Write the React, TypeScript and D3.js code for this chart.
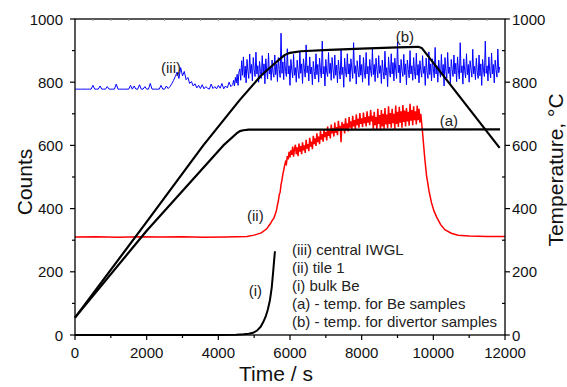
import React, { Component } from "react";
import * as d3 from "d3";

// (iii) central IWGL: quiet part, every 50 s from 0 s
const blueBaseStep = 50;
const blueBaseCounts = [
  778, 778, 778, 778, 778, 778, 778, 778, 778, 778,
  790, 778, 778, 778, 788, 778, 778, 778, 786, 778,
  778, 778, 778, 794, 778, 778, 778, 778, 778, 778,
  778, 790, 778, 788, 778, 778, 792, 778, 778, 786,
  778, 778, 796, 778, 778, 778, 778, 778, 790, 778,
  778, 788, 780, 786, 795, 806, 818, 832, 812, 846,
  820, 834, 808, 815, 796, 802, 788, 795, 782, 790,
  780, 792, 779, 786, 781, 778, 794, 780, 786, 779,
  790, 781, 796, 779, 788, 782, 800, 786,
];
// (iii) noisy part, every 25 s from 4400 s
const blueNoiseStart = 4400;
const blueNoiseStep = 25;
const blueNoiseCounts = [
  792, 806, 788, 815, 798, 825, 790, 832,
  842, 806, 868, 822, 880, 815, 851, 798, 872, 835,
  812, 889, 828, 856, 804, 878, 840, 818, 895, 826,
  852, 800, 866, 834, 812, 884, 822, 858, 795, 874,
  838, 810, 892, 826, 848, 806, 870, 830, 816, 886,
  824, 858, 802, 878, 840, 815, 955, 828, 864, 808,
  882, 834, 818, 906, 826, 852, 790, 872, 838, 814,
  888, 822, 846, 800, 870, 836, 812, 898, 828, 858,
  796, 874, 842, 816, 918, 830, 852, 804, 880, 826,
  848, 792, 866, 834, 810, 890, 824, 856, 800, 876,
  838, 814, 930, 826, 850, 788, 872, 832, 818, 894,
  828, 860, 806, 878, 840, 812, 886, 822, 854, 798,
  870, 836, 810, 902, 824, 848, 784, 876, 834, 816,
  890, 826, 858, 802, 874, 842, 812, 925, 828, 852,
  794, 868, 836, 816, 886, 822, 856, 800, 878, 832,
  812, 894, 826, 850, 790, 872, 838, 818, 906, 824,
  856, 802, 876, 840, 814, 884, 828, 852, 796, 870,
  834, 810, 898, 822, 846, 786, 880, 836, 816, 890,
  826, 862, 804, 876, 842, 812, 928, 830, 854, 798,
  872, 836, 818, 888, 824, 858, 792, 870, 840, 814,
  900, 826, 852, 806, 878, 834, 810, 892, 822, 856,
  798, 868, 838, 816, 884, 828, 850, 790, 876, 832,
  812, 896, 824, 858, 804, 874, 842, 814, 910, 826,
  852, 800, 870, 836, 816, 888, 822, 856, 788, 878,
  834, 812, 894, 828, 848, 796, 872, 840, 818, 886,
  826, 860, 802, 880, 838, 810, 925, 830, 852, 794,
  874, 836, 814, 890, 824, 856, 800, 868, 842, 816,
  904, 826, 850, 808, 876, 832, 812, 886, 820, 858,
  790, 872, 838, 818, 930, 828, 852, 804, 880, 834,
  814, 892, 826, 856, 798, 870, 840, 816, 905, 830,
  848,
];

// (ii) tile 1
const redStartTime = [0, 600, 1200, 1800, 2400, 3000, 3600, 4200, 4500, 4800, 5000, 5200, 5350, 5450, 5500];
const redStartCounts = [310, 311, 309, 311, 310, 311, 309, 310, 311, 312, 316, 323, 336, 352, 362];
const redPlateauStart = 5550;
const redPlateauStep = 25;
const redPlateauCounts = [
  370, 378, 386, 396, 412, 424, 444, 452, 476, 490,
  508, 522, 536, 548, 542, 566, 556, 580, 562, 584,
  570, 596, 564, 588, 602, 572, 594, 566, 606, 580,
  598, 572, 610, 584, 600, 576, 618, 590, 604, 582,
  624, 596, 612, 588, 630, 604, 622, 598, 638, 610,
  628, 604, 646, 618, 636, 612, 652, 626, 642, 616,
  660, 630, 648, 622, 666, 638, 654, 628, 672, 640,
  658, 632, 678, 646, 662, 610, 674, 650, 668, 638,
  686, 652, 670, 644, 690, 656, 676, 648, 694, 660,
  680, 652, 698, 664, 684, 656, 702, 668, 686, 658,
  704, 670, 690, 660, 708, 672, 692, 664, 712, 676,
  694, 652, 706, 664, 690, 650, 716, 668, 696, 648,
  712, 660, 700, 652, 718, 666, 698, 654, 724, 668,
  702, 656, 716, 670, 700, 652, 726, 668, 706, 658,
  722, 672, 708, 656, 728, 674, 710, 660, 718, 676,
  706, 662, 732, 678, 712, 664, 724, 680, 708, 666,
  726, 680, 716, 672, 700,
];
const redFallTime = [9700, 9760, 9810, 9880, 9950, 10020, 10090, 10200, 10320, 10500, 10690, 11000, 11500, 12000];
const redFallCounts = [640, 560, 505, 455, 418, 392, 374, 350, 333, 322, 316, 313, 312, 312];

// (i) bulk Be
const blackTime = [0, 1000, 2000, 3000, 4000, 4500, 4700, 4850, 4970, 5080, 5180, 5250, 5320, 5380, 5440, 5490, 5530, 5560, 5580];
const blackCounts = [0, 0, 0, 0, 0, 1, 2, 4, 7, 14, 26, 40, 58, 80, 110, 150, 200, 240, 265];

// (a) temp. for Be samples
const tempATime = [0, 2000, 4140, 4500, 4600, 4700, 4850, 8000, 11860];
const tempA = [55, 330, 600, 637, 645, 648, 650, 650, 651];

// (b) temp. for divertor samples
const tempBTime = [0, 2000, 3580, 4600, 5200, 5500, 5720, 5850, 6000, 6300, 7100, 8000, 9000, 9570, 9680, 11850];
const tempB = [55, 358, 600, 744, 822, 852, 874, 886, 893, 898, 902, 906, 910, 912, 908, 592];

const legendLines = [
  "(iii) central IWGL",
  "(ii) tile 1",
  "(i) bulk Be",
  "(a) - temp. for Be samples",
  "(b) - temp. for divertor samples",
];

const font = "'Liberation Sans', Arial, sans-serif";

export default class App extends Component {
  chartRef: any;
  componentDidMount() {
    const width = 567;
    const height = 387;
    const margin = { top: 19, right: 62, bottom: 52, left: 75 };

    const svg = d3.select(this.chartRef);
    svg.selectAll("*").remove();
    svg.attr("width", width).attr("height", height);

    const x = d3.scaleLinear().domain([0, 12000]).range([margin.left, width - margin.right]);
    const y = d3.scaleLinear().domain([0, 1000]).range([height - margin.bottom, margin.top]);
    const [x0, x1] = x.range();
    const [y0, y1] = y.range();

    const line: any = d3
      .line()
      .x((d: any) => x(d[0]))
      .y((d: any) => y(d[1]));

    const g = svg.append("g").attr("font-family", font);

    // 数据
    const blueData = [
      ...blueBaseCounts.map((v, i) => [i * blueBaseStep, v]),
      ...blueNoiseCounts.map((v, i) => [blueNoiseStart + i * blueNoiseStep, v]),
    ];
    const redData = [
      ...redStartTime.map((t, i) => [t, redStartCounts[i]]),
      ...redPlateauCounts.map((v, i) => [redPlateauStart + i * redPlateauStep, v]),
      ...redFallTime.map((t, i) => [t, redFallCounts[i]]),
    ];
    const blackData = blackTime.map((t, i) => [t, blackCounts[i]]);
    const aData = tempATime.map((t, i) => [t, tempA[i]]);
    const bData = tempBTime.map((t, i) => [t, tempB[i]]);

    g.append("path").attr("d", line(blueData)).attr("fill", "none").attr("stroke", "#0000ff").attr("stroke-width", 1);
    g.append("path").attr("d", line(redData)).attr("fill", "none").attr("stroke", "#ff0000").attr("stroke-width", 1.5);
    g.append("path").attr("d", line(blackData)).attr("fill", "none").attr("stroke", "#000").attr("stroke-width", 2);
    g.append("path").attr("d", line(aData)).attr("fill", "none").attr("stroke", "#000").attr("stroke-width", 2.2).attr("stroke-linejoin", "round");
    g.append("path").attr("d", line(bData)).attr("fill", "none").attr("stroke", "#000").attr("stroke-width", 2.2).attr("stroke-linejoin", "round");

    // 坐标框
    const axisColor = "#000";
    g.append("rect")
      .attr("x", x0)
      .attr("y", y1)
      .attr("width", x1 - x0)
      .attr("height", y0 - y1)
      .attr("fill", "none")
      .attr("stroke", axisColor)
      .attr("stroke-width", 1.3);

    // x 轴刻度
    const xMajor = d3.range(0, 12001, 2000);
    const xMinor = d3.range(1000, 12000, 2000);
    xMajor.forEach((t) => {
      g.append("line").attr("x1", x(t)).attr("x2", x(t)).attr("y1", y0).attr("y2", y0 + 5).attr("stroke", axisColor).attr("stroke-width", 1.2);
      g.append("text")
        .attr("x", x(t))
        .attr("y", y0 + 23)
        .attr("text-anchor", "middle")
        .attr("font-size", 15)
        .attr("fill", "#111")
        .text(t);
    });
    xMinor.forEach((t) => {
      g.append("line").attr("x1", x(t)).attr("x2", x(t)).attr("y1", y0).attr("y2", y0 + 3).attr("stroke", axisColor).attr("stroke-width", 1.2);
    });
    d3.range(500, 12000, 500).forEach((t) => {
      g.append("line").attr("x1", x(t)).attr("x2", x(t)).attr("y1", y1).attr("y2", y1 + 2).attr("stroke", "#999").attr("stroke-width", 1);
    });

    // y 轴刻度 (左右)
    const yMajor = d3.range(0, 1001, 200);
    const yMinor = d3.range(100, 1000, 200);
    yMajor.forEach((v) => {
      g.append("line").attr("x1", x0 - 5).attr("x2", x0).attr("y1", y(v)).attr("y2", y(v)).attr("stroke", axisColor).attr("stroke-width", 1.2);
      g.append("line").attr("x1", x1).attr("x2", x1 + 5).attr("y1", y(v)).attr("y2", y(v)).attr("stroke", axisColor).attr("stroke-width", 1.2);
      g.append("text")
        .attr("x", x0 - 12)
        .attr("y", y(v) + 5.5)
        .attr("text-anchor", "end")
        .attr("font-size", 15)
        .attr("fill", "#111")
        .text(v);
      g.append("text")
        .attr("x", x1 + 7)
        .attr("y", y(v) + 5.5)
        .attr("text-anchor", "start")
        .attr("font-size", 15)
        .attr("fill", "#111")
        .text(v);
    });
    yMinor.forEach((v) => {
      g.append("line").attr("x1", x0 - 3).attr("x2", x0).attr("y1", y(v)).attr("y2", y(v)).attr("stroke", axisColor).attr("stroke-width", 1.2);
      g.append("line").attr("x1", x1 - 3).attr("x2", x1).attr("y1", y(v)).attr("y2", y(v)).attr("stroke", axisColor).attr("stroke-width", 1.2);
    });

    // 轴标题
    g.append("text")
      .attr("transform", "translate(32,182) rotate(-90)")
      .attr("text-anchor", "middle")
      .attr("font-size", 21)
      .attr("fill", "#111")
      .text("Counts");
    g.append("text")
      .attr("transform", "translate(563,170) rotate(-90)")
      .attr("text-anchor", "middle")
      .attr("font-size", 21)
      .attr("fill", "#111")
      .text("Temperature, °C");
    g.append("text")
      .attr("x", 276)
      .attr("y", 381)
      .attr("text-anchor", "middle")
      .attr("font-size", 21)
      .attr("fill", "#111")
      .text("Time / s");

    // 曲线标注
    const notes: [string, number, number][] = [
      ["(iii)", 2400, 830],
      ["(b)", 8950, 928],
      ["(a)", 10180, 662],
      ["(ii)", 4800, 360],
      ["(i)", 4850, 125],
    ];
    notes.forEach(([label, t, v]) => {
      g.append("text")
        .attr("x", x(t))
        .attr("y", y(v))
        .attr("font-size", 15)
        .attr("fill", "#222")
        .text(label);
    });

    // 图例文字
    legendLines.forEach((s, i) => {
      g.append("text")
        .attr("x", 292)
        .attr("y", 255 + i * 18)
        .attr("font-size", 15)
        .attr("fill", "#222")
        .text(s);
    });
  }
  render() {
    return (
      <div style={{ position: "absolute", left: 0, top: 0 }}>
        <svg ref={(r) => (this.chartRef = r)} style={{ display: "block" }}></svg>
      </div>
    );
  }
}
